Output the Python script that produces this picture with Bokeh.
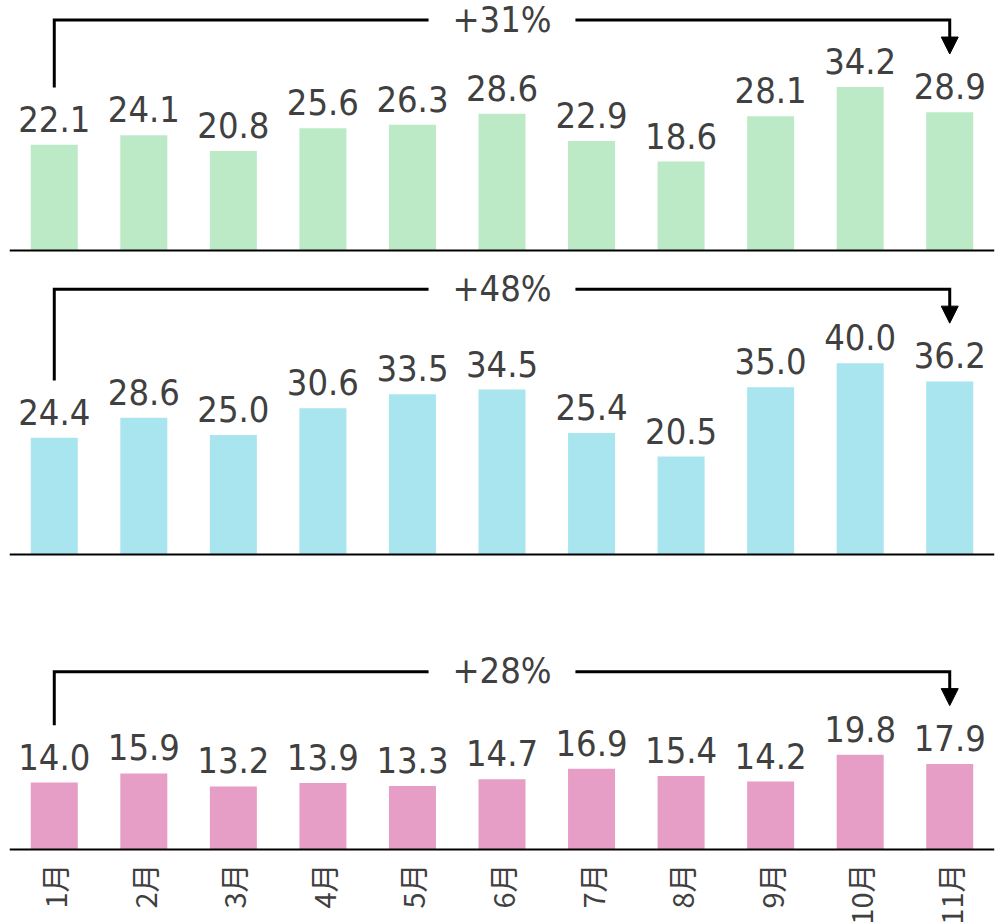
import math
from bokeh.plotting import figure
from bokeh.layouts import column
from bokeh.models import Range1d, Span, Arrow, NormalHead, ColumnDataSource
from bokeh.core.properties import value
from bokeh.embed import file_html
from bokeh.resources import INLINE

months = ["1月", "2月", "3月", "4月", "5月", "6月", "7月", "8月", "9月", "10月", "11月"]
series_a = [22.1, 24.1, 20.8, 25.6, 26.3, 28.6, 22.9, 18.6, 28.1, 34.2, 28.9]
series_b = [24.4, 28.6, 25.0, 30.6, 33.5, 34.5, 25.4, 20.5, 35.0, 40.0, 36.2]
series_c = [14.0, 15.9, 13.2, 13.9, 13.3, 14.7, 16.9, 15.4, 14.2, 19.8, 17.9]
colors = ["#BCEAC7", "#A9E5EE", "#E69EC6"]

K = 4.78          # px per unit
TXT = "#404040"
VFONT = "DejaVu Sans Condensed"
W = 996

def panel(vals, color, height, below_px, above_px, last=False):
    xs = list(range(len(vals)))
    p = figure(width=W, height=height, output_backend="svg", toolbar_location=None,
               x_range=Range1d(-0.5, len(vals) - 0.5),
               y_range=Range1d(-below_px / K, above_px / K),
               min_border_left=9, min_border_right=2, min_border_top=0, min_border_bottom=0)
    p.outline_line_color = None
    p.xgrid.visible = False
    p.ygrid.visible = False
    p.yaxis.visible = False
    p.xaxis.visible = False
    p.background_fill_color = "white"
    p.border_fill_color = "white"
    src = ColumnDataSource(dict(x=xs, top=vals, lab=[f"{v:.1f}" for v in vals]))
    p.vbar(x="x", top="top", bottom=0, width=0.525, source=src, fill_color=color, line_color=None)
    p.text(x="x", y="top", text="lab", source=src, text_align="center", text_baseline="alphabetic",
           y_offset=-26, text_font=value(VFONT), text_font_size="36px", text_color=TXT)
    # bracket
    first, lastv = vals[0], vals[-1]
    yb = max(first, lastv) + 19.3
    i0, i1 = 0, len(vals) - 1
    mid = (i0 + i1) / 2
    gap = 0.82
    p.multi_line(xs=[[i0, i0, mid - gap], [mid + gap, i1, i1]],
                 ys=[[first + 12, yb, yb], [yb, yb, lastv + 15]],
                 line_color="black", line_width=3, line_join="miter")
    p.add_layout(Arrow(end=NormalHead(size=17, fill_color="black", line_color="black", line_width=1),
                       x_start=i1, y_start=lastv + 14, x_end=i1, y_end=lastv + 12.2,
                       line_color="black", line_width=3))
    pct = round((lastv / first - 1) * 100)
    p.text(x=[mid], y=[yb], text=[f"+{pct}%"], text_align="center", text_baseline="alphabetic",
           y_offset=-1, text_font=value(VFONT), text_font_size="36px", text_color=TXT)
    p.add_layout(Span(location=0, dimension="width", line_color="black", line_width=2))
    if last:
        lsrc = ColumnDataSource(dict(x=xs, y=[0] * len(xs), m=months))
        p.text(x="x", y="y", text="m", source=lsrc, angle=math.pi / 2,
               text_align="right", text_baseline="middle", y_offset=14,
               text_font=value("Noto Sans CJK JP"), text_font_size="29px", text_color=TXT)
    return p

p1 = panel(series_a, colors[0], 254, 4, 250)
p2 = panel(series_b, colors[1], 304, 4, 300)
p3 = panel(series_c, colors[2], 364, 73, 291, last=True)

layout = column(p1, p2, p3, spacing=0)
open("out.html", "w").write(file_html(layout, INLINE))
